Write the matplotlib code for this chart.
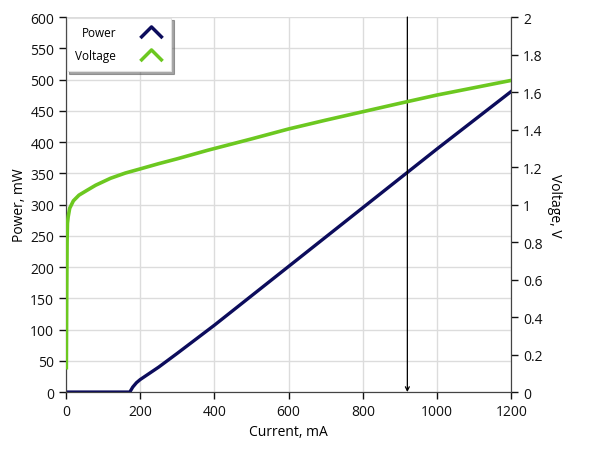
import matplotlib.pyplot as plt
from matplotlib.lines import Line2D
from matplotlib.path import Path

plt.rcParams['font.family'] = ['Open Sans', 'DejaVu Sans']

# power curve, mW vs mA
current_p = [0, 172, 180, 190, 200, 250, 300, 400, 500, 600, 700, 800, 900, 1000, 1100, 1200]
power = [0, 0, 8, 15, 20, 40, 62, 107, 154, 201, 248, 295, 342, 389, 435, 481]

# voltage curve, V vs mA
current_v = [1, 2, 3, 4, 6, 10, 20, 35, 56, 80, 120, 160, 200, 250, 300, 383,
             500, 600, 700, 800, 900, 1000, 1100, 1200]
voltage = [0.13, 0.5, 0.8, 0.9, 0.935, 0.98, 1.02, 1.05, 1.075, 1.103, 1.14, 1.168, 1.19,
           1.218, 1.244, 1.29, 1.35, 1.403, 1.45, 1.495, 1.54, 1.584, 1.623, 1.662]

cursor_x = 920

navy = '#0c0c5c'
green = '#6cc820'
spine_col = '#444444'

fig = plt.figure(figsize=(5.89, 4.56), dpi=100)
ax = fig.add_axes([0.112, 0.138, 0.756, 0.8225])
ax2 = ax.twinx()

ax.plot(current_p, power, color=navy, lw=2.4, zorder=3)
ax2.plot(current_v, voltage, color=green, lw=2.6, zorder=3)

ax.set_xlim(0, 1200)
ax.set_ylim(0, 600)
ax2.set_ylim(0, 2)
ax.set_xticks(range(0, 1201, 200))
ax.set_yticks(range(0, 601, 50))
ax2.set_yticks([i * 0.2 for i in range(11)])
ax2.set_yticklabels(['0', '0.2', '0.4', '0.6', '0.8', '1', '1.2', '1.4', '1.6', '1.8', '2'])

ax.grid(True, color='#dcdcdc', lw=1)
ax.set_axisbelow(True)

for a in (ax, ax2):
    for s in a.spines.values():
        s.set_color(spine_col)
    a.tick_params(colors='#111111', labelsize=10, length=5, width=1)
ax2.spines['top'].set_visible(False)
ax.spines['top'].set_visible(False)

ax.set_xlabel('Current, mA', fontsize=10, labelpad=4)
ax.set_ylabel('Power, mW', fontsize=10, labelpad=2)
ax2.set_ylabel('Voltage, V', fontsize=10, rotation=270, labelpad=14)

# cursor
ax.annotate('', xy=(cursor_x, 0), xytext=(cursor_x, 600),
            arrowprops=dict(arrowstyle='->', color='black', lw=0.9,
                            mutation_scale=7, shrinkA=0, shrinkB=0), zorder=5)

# legend with chevron markers
chev = Path([(-1, -0.5), (0, 0.5), (1, -0.5)], [Path.MOVETO, Path.LINETO, Path.LINETO])
handles = [Line2D([], [], ls='none', marker=chev, markersize=16, markeredgewidth=2.5,
                  markerfacecolor='none', markeredgecolor=navy),
           Line2D([], [], ls='none', marker=chev, markersize=16, markeredgewidth=2.5,
                  markerfacecolor='none', markeredgecolor=green)]
leg = ax2.legend(handles, ['Power', 'Voltage'], loc='upper left', markerfirst=False,
                 fontsize=8.5, frameon=True, fancybox=False, shadow=True,
                 borderaxespad=0.05, handletextpad=1.9, labelspacing=0.85,
                 borderpad=0.75)
leg.get_frame().set_edgecolor('#e0e0e0')
leg.get_frame().set_linewidth(0.8)

fig.savefig('out.png', dpi=100)
